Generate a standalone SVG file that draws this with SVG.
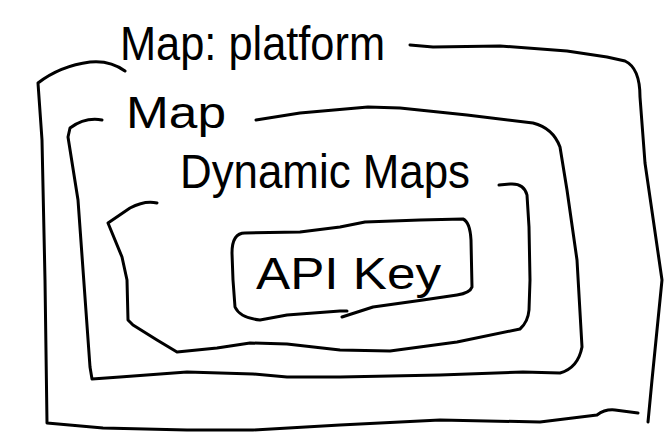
<svg xmlns="http://www.w3.org/2000/svg" width="667" height="434" viewBox="0 0 667 434">
<style>
.s{fill:none;stroke:#000;stroke-width:3;stroke-linecap:round;stroke-linejoin:round}
.t{font-family:"Liberation Sans","DejaVu Sans",sans-serif;fill:#000;font-weight:normal}
</style>
<rect width="667" height="434" fill="#fff"/>
<g id="platform">
<path class="s" d="M125,71 Q110,60 90,62 Q60,66 38,83 L42,140 L45,280 L47,423 L103,428 L187,430 L253,430 L340,425 L440,420 L540,422 L597,415 Q605,409 615,410 L638,413"/>
<path class="s" d="M648,422 L652,380 L662,280 L645,163 L640,97 Q640,68 625,61 L607,57 L567,51 L500,46 L433,47 L410,45"/>
<text class="t" x="120" y="60" font-size="48" textLength="265" lengthAdjust="spacingAndGlyphs">Map: platform</text>
</g>
<g id="map">
<path class="s" d="M102,120 Q85,117 70,128 L68,137 L78,200 L90,367 L92,379 L120,377 L187,372 L253,374 L287,377 L340,377 L440,375 L523,372 L560,373 Q578,368 582,347 L577,260 L567,190 L560,147 Q553,128 533,123 L467,115 L400,108 L368,107 L300,113 L256,120"/>
<text class="t" x="126" y="128" font-size="44" textLength="100" lengthAdjust="spacingAndGlyphs">Map</text>
</g>
<g id="dynamic-maps">
<path class="s" d="M157,203 Q145,200 130,208 L108,223 L122,257 L127,280 L128,320 L133,325 L157,340 L177,352 L217,348 L250,343 L287,344 L340,350 L390,351 L457,342 L520,329 Q528,322 529,310 L530,280 L529,227 L527,195 Q524,183 510,184 L499,185"/>
<text class="t" x="180" y="188" font-size="48" textLength="290" lengthAdjust="spacingAndGlyphs">Dynamic Maps</text>
</g>
<g id="api-key">
<path class="s" d="M347,311 L340,311 L287,315 L260,320 Q240,318 235,307 L233,280 L232,253 Q232,233 245,233 L300,232 L340,227 L365,222 L420,220 L463,219 Q470,222 471,240 L472,287 Q470,293 457,295 L423,300 L373,307 L342,317"/>
<text class="t" x="256" y="289" font-size="44" textLength="185" lengthAdjust="spacingAndGlyphs">API Key</text>
</g>
<g id="connectors"/>
</svg>
